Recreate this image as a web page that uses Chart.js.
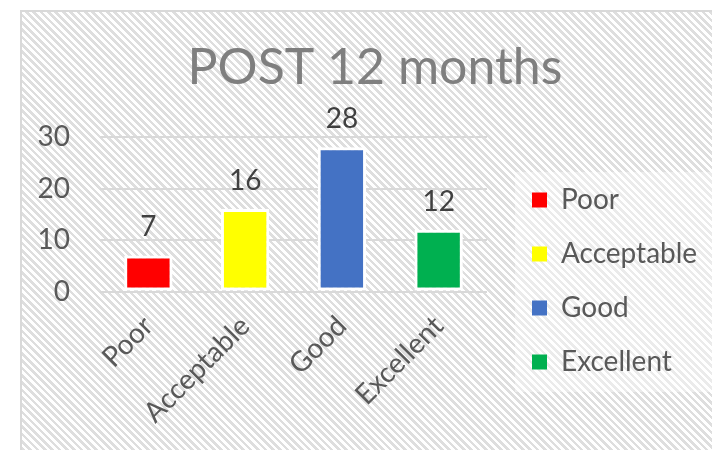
<!DOCTYPE html>
<html>
<head>
<meta charset="utf-8">
<script src="https://cdn.jsdelivr.net/npm/chart.js@4"></script>
<style>
  html, body { margin: 0; padding: 0; width: 712px; height: 450px; overflow: hidden; background: #ffffff; }
  #frame {
    position: absolute; left: 20px; top: 10px; width: 740px; height: 560px;
    border-left: 2px solid #d9d9d9; border-top: 2px solid #d9d9d9;
    background: repeating-linear-gradient(45deg, #ffffff 0px, #ffffff 2.6px, #dedede 2.6px, #dedede 5.2px);
  }
  canvas { position: absolute; left: 0; top: 0; }
</style>
</head>
<body>
<div id="frame"><canvas id="c" width="706" height="538"></canvas></div>
<script>
const chartTitle = "POST 12 months";
const categories = ["Poor", "Acceptable", "Good", "Excellent"];
const values = [7, 16, 28, 12];
const barColors = ["#ff0000", "#ffff00", "#4472c4", "#00b050"];
const yTicks = [0, 10, 20, 30];

const FONT = "Lato";
const LEGEND_W = 222;

const legendBg = {
  id: "legendBg",
  beforeDraw(chart) {
    const ctx = chart.ctx;
    ctx.save();
    ctx.fillStyle = "rgba(255,255,255,0.4)";
    ctx.fillRect(493, 160, 220, 220);
    ctx.restore();
  }
};

const valueLabels = {
  id: "valueLabels",
  afterDatasetsDraw(chart) {
    const ctx = chart.ctx;
    const meta = chart.getDatasetMeta(0);
    ctx.save();
    ctx.font = "28px " + FONT;
    ctx.fillStyle = "#404040";
    ctx.textAlign = "center";
    ctx.textBaseline = "middle";
    meta.data.forEach((bar, i) => {
      ctx.fillText(String(values[i]), bar.x, bar.y - 28);
    });
    ctx.restore();
  }
};

const chart = new Chart(document.getElementById("c"), {
  type: "bar",
  data: {
    labels: categories,
    datasets: [{
      data: values,
      backgroundColor: barColors,
      borderColor: "#ffffff",
      borderWidth: 3,
      borderSkipped: false,
      barPercentage: 0.5,
      categoryPercentage: 1.0
    }]
  },
  options: {
    responsive: false,
    animation: false,
    devicePixelRatio: 1,
    layout: { padding: { left: 0, right: 0, top: 0, bottom: 0 } },
    plugins: {
      title: {
        display: true,
        text: chartTitle,
        color: "#7f7f7f",
        font: { family: FONT, size: 50, weight: "normal" },
        padding: { top: 26, bottom: 39 }
      },
      legend: {
        display: true,
        position: "right",
        align: "center",
        onClick: null,
        labels: {
          font: { family: FONT, size: 28 },
          color: "#595959",
          boxWidth: 15,
          boxHeight: 15,
          padding: 26,
          generateLabels() {
            return categories.map((c, i) => ({
              text: c,
              fillStyle: barColors[i],
              strokeStyle: barColors[i],
              lineWidth: 0,
              fontColor: "#595959",
              hidden: false,
              index: i
            }));
          }
        }
      },
      tooltip: { enabled: false }
    },
    scales: {
      x: {
        grid: { display: false, drawTicks: false },
        border: { display: false },
        ticks: {
          color: "#595959",
          font: { family: FONT, size: 28 },
          minRotation: 45,
          maxRotation: 45,
          autoSkip: false,
          padding: 18
        },
        afterFit(scale) { scale.height = 258.5; }
      },
      y: {
        min: 0,
        max: 30,
        grid: { color: "#d9d9d9", lineWidth: 2, drawTicks: false },
        border: { display: false },
        afterBuildTicks(scale) { scale.ticks = yTicks.map(v => ({ value: v })); },
        ticks: {
          color: "#595959",
          font: { family: FONT, size: 28 },
          padding: 30
        },
        afterFit(scale) { scale.width = 78; }
      },
      yR: {
        position: "right",
        display: true,
        grid: { display: false, drawTicks: false },
        border: { display: false },
        ticks: { display: false },
        afterFit(scale) { scale.width = 19; }
      }
    }
  },
  plugins: [legendBg, valueLabels]
});

// Give the legend box the fixed width it has in the reference layout
const legendFit = chart.legend.fit.bind(chart.legend);
chart.legend.fit = function () { legendFit(); this.width = LEGEND_W; };
chart.update();
</script>
</body>
</html>
